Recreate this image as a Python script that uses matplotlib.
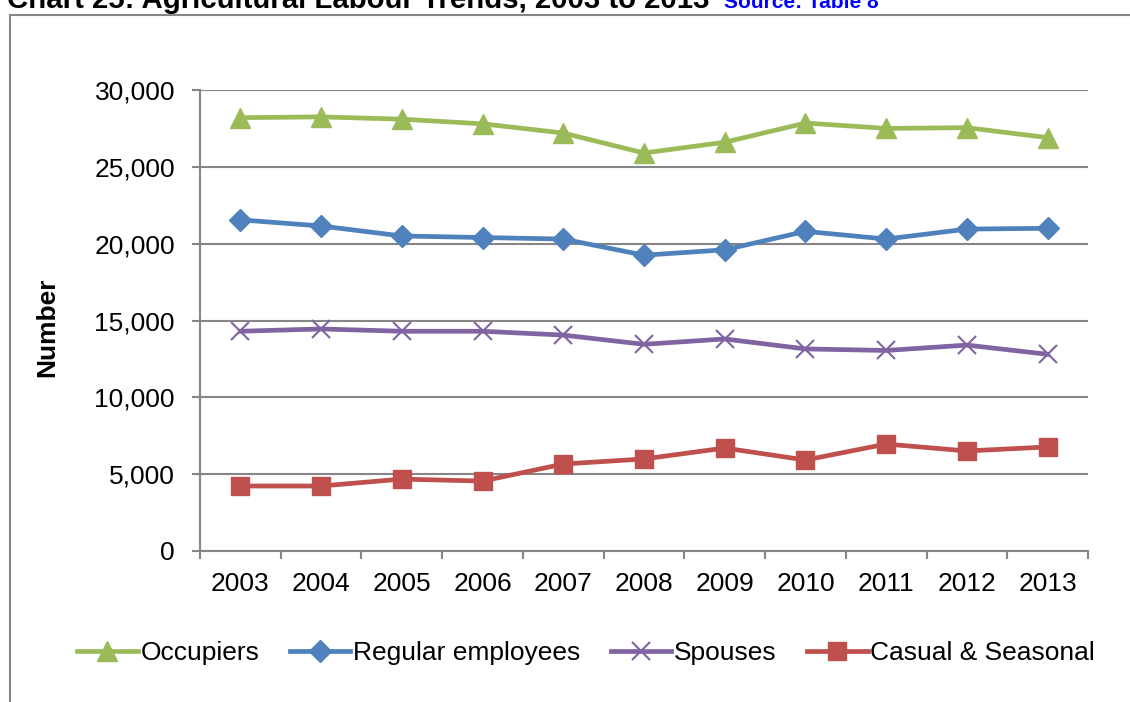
import matplotlib
matplotlib.use('Agg')
import matplotlib.pyplot as plt
from matplotlib.patches import Rectangle
from matplotlib.ticker import FuncFormatter, FixedLocator

plt.rcParams['font.family'] = ['Liberation Sans', 'DejaVu Sans']

years = ['2003', '2004', '2005', '2006', '2007', '2008', '2009', '2010', '2011', '2012', '2013']
occupiers = [28200, 28250, 28100, 27800, 27200, 25900, 26600, 27850, 27500, 27550, 26900]
regular = [21550, 21150, 20500, 20400, 20300, 19250, 19600, 20800, 20300, 20950, 21000]
spouses = [14300, 14450, 14300, 14300, 14050, 13450, 13800, 13150, 13050, 13400, 12800]
casual = [4230, 4230, 4680, 4550, 5660, 5990, 6700, 5920, 6960, 6510, 6770]

grey = '#868686'
W, H = 1130, 702

fig = plt.figure(figsize=(W / 100, H / 100), dpi=100)
ax = fig.add_axes([200 / W, 151 / H, 888 / W, 461 / H])

x = list(range(len(years)))
ax.plot(x, occupiers, color='#9BBB59', lw=3.4, marker='^', ms=14, label='Occupiers', zorder=5)
ax.plot(x, regular, color='#4F81BD', lw=3.4, marker='D', ms=11, label='Regular employees', zorder=5)
ax.plot(x, spouses, color='#8064A2', lw=3.4, marker='x', ms=13, mew=1.5, label='Spouses', zorder=5)
ax.plot(x, casual, color='#C0504D', lw=3.4, marker='s', ms=13, label='Casual & Seasonal', zorder=5)

ax.set_xlim(-0.5, len(years) - 0.5)
ax.set_ylim(0, 30000)
ax.set_yticks(range(0, 30001, 5000))
ax.yaxis.set_major_formatter(FuncFormatter(lambda v, p: f'{int(v):,}'))
ax.set_xticks(x)
ax.set_xticklabels(years)
ax.xaxis.set_minor_locator(FixedLocator([i - 0.5 for i in range(len(years) + 1)]))
ax.tick_params(axis='x', which='major', length=0, labelsize=19, pad=15)
ax.tick_params(axis='x', which='minor', length=6, width=1.5, color=grey, direction='out')
ax.tick_params(axis='y', length=6, width=1.5, color=grey, labelsize=19, pad=12)

ax.grid(axis='y', color=grey, lw=1.5)
ax.set_axisbelow(True)
for s in ['top', 'right']:
    ax.spines[s].set_visible(False)
for s in ['left', 'bottom']:
    ax.spines[s].set_color(grey)
    ax.spines[s].set_linewidth(1.5)

ax.set_ylabel('Number', fontsize=19, fontweight='bold')
ax.yaxis.set_label_coords(59 / W, (H - 327) / H, transform=fig.transFigure)

fig.legend(loc='center', bbox_to_anchor=(586 / W, (H - 653) / H), ncol=4, frameon=False,
           fontsize=19, handlelength=2.3, handletextpad=0.1, columnspacing=1.15)

# outer chart frame
fig.patches.append(Rectangle((10 / W, -0.05), 1.2, (H - 15) / H + 0.05, transform=fig.transFigure,
                             fill=False, edgecolor=grey, lw=1.5))

fig.text(7 / W, (H - 8) / H, 'Chart 25: Agricultural Labour Trends, 2003 to 2013',
         fontsize=21.2, fontweight='bold', va='baseline', ha='left')
fig.text(724 / W, (H - 8) / H, 'Source: Table 8', fontsize=15, fontweight='bold',
         color='#0000FF', va='baseline', ha='left')

fig.savefig('out.png', dpi=100)
